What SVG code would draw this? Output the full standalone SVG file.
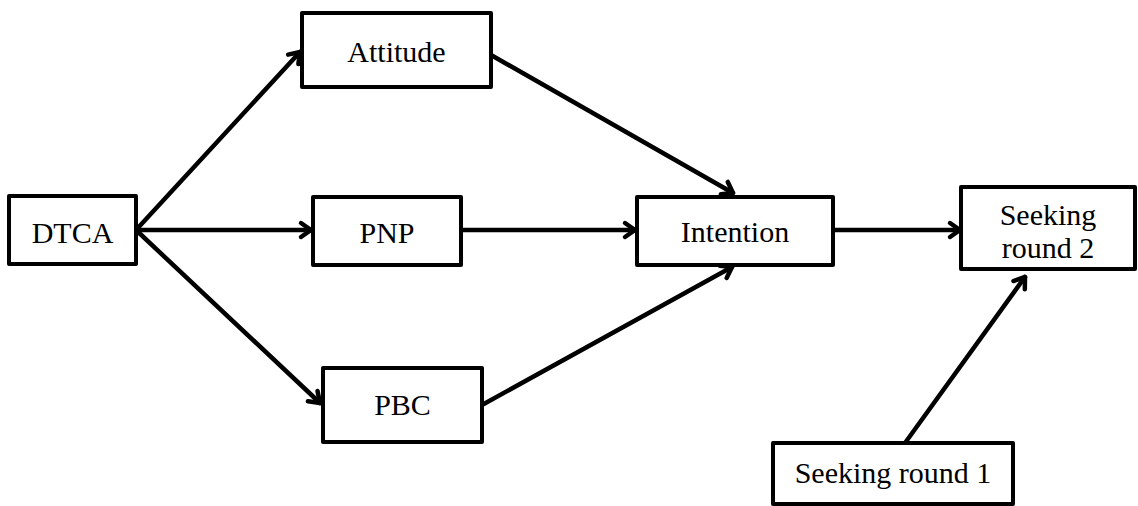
<svg xmlns="http://www.w3.org/2000/svg" width="1138" height="506" viewBox="0 0 1138 506">
<style>
.box{fill:#fff;stroke:#000;stroke-width:4;stroke-linejoin:round}
.lbl{font-family:"Liberation Serif","Times New Roman",serif;font-size:30px;fill:#000;text-anchor:middle}
.edge{stroke:#000;stroke-width:4.5;fill:none;stroke-linecap:round}
</style>
<defs>
<marker id="arr" markerUnits="userSpaceOnUse" markerWidth="20" markerHeight="20" refX="14" refY="8" orient="auto" overflow="visible">
<path d="M4,1 L14,8 L4,15" fill="none" stroke="#000" stroke-width="4.5" stroke-linecap="round" stroke-linejoin="round"/>
</marker>
</defs>
<g id="connectors">
<line class="edge" x1="136" y1="230" x2="300" y2="52" marker-end="url(#arr)"/>
<line class="edge" x1="136" y1="230" x2="311" y2="230" marker-end="url(#arr)"/>
<line class="edge" x1="136" y1="230" x2="320" y2="403" marker-end="url(#arr)"/>
<line class="edge" x1="491" y1="55" x2="733" y2="193" marker-end="url(#arr)"/>
<line class="edge" x1="461" y1="230" x2="635" y2="230" marker-end="url(#arr)"/>
<line class="edge" x1="482" y1="405" x2="732" y2="267" marker-end="url(#arr)"/>
<line class="edge" x1="833" y1="230" x2="960" y2="230" marker-end="url(#arr)"/>
<line class="edge" x1="905" y1="443" x2="1025" y2="277" marker-end="url(#arr)"/>
</g>
<g id="node-dtca">
<rect class="box" x="9" y="196" width="127" height="68"/>
<text class="lbl" x="72.5" y="243">DTCA</text>
</g>
<g id="node-attitude">
<rect class="box" x="302" y="13" width="189" height="74"/>
<text class="lbl" x="396.5" y="62">Attitude</text>
</g>
<g id="node-pnp">
<rect class="box" x="313" y="197" width="148" height="68"/>
<text class="lbl" x="387" y="243">PNP</text>
</g>
<g id="node-pbc">
<rect class="box" x="323" y="368" width="159" height="74"/>
<text class="lbl" x="402.5" y="415">PBC</text>
</g>
<g id="node-intention">
<rect class="box" x="637" y="197" width="196" height="68"/>
<text class="lbl" x="735" y="242">Intention</text>
</g>
<g id="node-seeking2">
<rect class="box" x="961" y="187" width="174" height="82"/>
<text class="lbl" x="1048" y="225">Seeking</text>
<text class="lbl" x="1048" y="258">round 2</text>
</g>
<g id="node-seeking1">
<rect class="box" x="773" y="443" width="240" height="61"/>
<text class="lbl" x="893" y="483">Seeking round 1</text>
</g>
</svg>
